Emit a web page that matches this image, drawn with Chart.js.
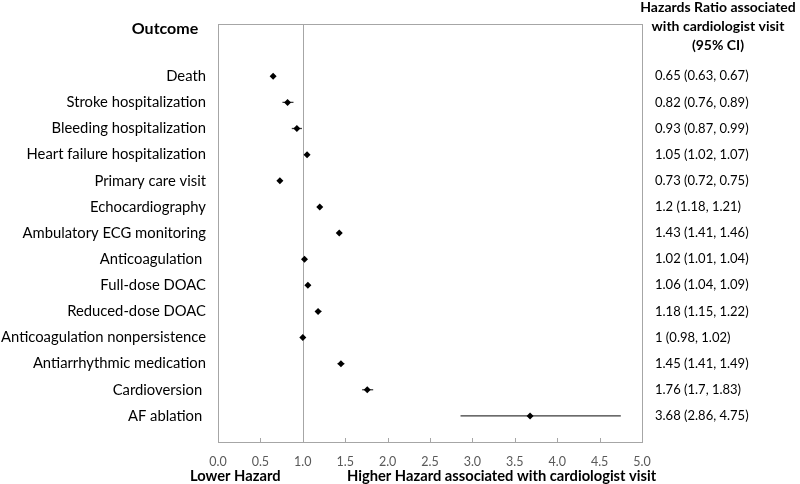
<!DOCTYPE html>
<html>
<head>
<meta charset="utf-8">
<script src="https://cdn.jsdelivr.net/npm/chart.js@4/dist/chart.umd.min.js"></script>
<style>
  html, body { margin: 0; padding: 0; background: #ffffff; }
  #wrap { width: 800px; height: 484px; }
</style>
</head>
<body>
<div id="wrap"><canvas id="c" width="800" height="484"></canvas></div>
<script>
// ---- Data ----
const outcomes = [
  "Death",
  "Stroke hospitalization",
  "Bleeding hospitalization",
  "Heart failure hospitalization",
  "Primary care visit",
  "Echocardiography",
  "Ambulatory ECG monitoring",
  "Anticoagulation ",
  "Full-dose DOAC",
  "Reduced-dose DOAC",
  "Anticoagulation nonpersistence",
  "Antiarrhythmic medication",
  "Cardioversion ",
  "AF ablation "
];
const hr    = [0.65, 0.82, 0.93, 1.05, 0.73, 1.2, 1.43, 1.02, 1.06, 1.18, 1, 1.45, 1.76, 3.68];
const ciLow = [0.63, 0.76, 0.87, 1.02, 0.72, 1.18, 1.41, 1.01, 1.04, 1.15, 0.98, 1.41, 1.7, 2.86];
const ciHigh= [0.67, 0.89, 0.99, 1.07, 0.75, 1.21, 1.46, 1.04, 1.09, 1.22, 1.02, 1.49, 1.83, 4.75];
const xTicks = [0, 0.5, 1, 1.5, 2, 2.5, 3, 3.5, 4, 4.5, 5];
const headerLeft = "Outcome";
const headerRight = ["Hazards Ratio associated", "with cardiologist visit", "(95% CI)"];
const footerLeft = "Lower Hazard";
const footerRight = "Higher Hazard associated with cardiologist visit";

// rows from top: y positions 14 .. 1 on a 0..16 axis
const rowY = outcomes.map((_, i) => outcomes.length - i);
const hrText = hr.map((v, i) => `${v} (${ciLow[i]}, ${ciHigh[i]})`);

const FONT = "Lato, 'Liberation Sans', sans-serif";

const datasets = [];
outcomes.forEach((_, i) => {
  datasets.push({
    type: 'scatter',
    data: [{x: ciLow[i], y: rowY[i]}, {x: ciHigh[i], y: rowY[i]}],
    showLine: true,
    borderColor: '#3a3a3a',
    borderWidth: 1.3,
    pointRadius: 0,
    pointHoverRadius: 0,
    order: 2
  });
});
datasets.push({
  type: 'scatter',
  data: hr.map((v, i) => ({x: v, y: rowY[i]})),
  pointStyle: 'rectRot',
  pointRadius: 3.5,
  backgroundColor: '#000',
  borderColor: '#000',
  borderWidth: 0,
  order: 1
});

const decor = {
  id: 'decor',
  beforeDatasetsDraw(chart) {
    const {ctx, chartArea: a, scales} = chart;
    ctx.save();
    ctx.strokeStyle = '#a6a6a6';
    ctx.lineWidth = 1;
    // reference line at 1.0
    const x1 = Math.round(scales.x.getPixelForValue(1)) + 0.5;
    ctx.beginPath(); ctx.moveTo(x1, a.top); ctx.lineTo(x1, a.bottom); ctx.stroke();
    // box
    ctx.strokeRect(Math.round(a.left) + 0.5, Math.round(a.top) + 0.5,
                   Math.round(a.right - a.left), Math.round(a.bottom - a.top));
    // tick marks (inside)
    xTicks.forEach(t => {
      const px = Math.round(scales.x.getPixelForValue(t)) + 0.5;
      ctx.beginPath(); ctx.moveTo(px, a.bottom - 4); ctx.lineTo(px, a.bottom); ctx.stroke();
    });
    ctx.restore();
  },
  afterDraw(chart) {
    const {ctx, chartArea: a, scales} = chart;
    ctx.save();
    ctx.fillStyle = '#000';
    ctx.textBaseline = 'middle';
    // right column: HR (95% CI)
    ctx.font = "13px " + FONT;
    ctx.textAlign = 'left';
    hrText.forEach((s, i) => ctx.fillText(s, a.right + 13, scales.y.getPixelForValue(rowY[i])));
    // headers
    ctx.font = "bold 16px " + FONT;
    ctx.textAlign = 'center';
    ctx.fillText(headerLeft, 165, 29);
    ctx.font = "bold 14px " + FONT;
    headerRight.forEach((s, i) => ctx.fillText(s, 718, 7 + i * 19));
    // footers
    ctx.font = "bold 14.7px " + FONT;
    ctx.textAlign = 'left';
    ctx.fillText(footerLeft, 190, 476);
    ctx.fillText(footerRight, 347, 476);
    ctx.restore();
  }
};

new Chart(document.getElementById('c'), {
  data: { datasets },
  options: {
    responsive: false,
    animation: false,
    devicePixelRatio: 1,
    layout: { padding: { top: 24, left: 0, right: 158, bottom: 0 } },
    plugins: { legend: { display: false }, tooltip: { enabled: false } },
    scales: {
      x: {
        type: 'linear', min: 0, max: 5,
        afterBuildTicks(scale) { scale.ticks = xTicks.map(v => ({value: v})); },
        grid: { display: false, drawTicks: false },
        border: { display: false },
        ticks: {
          color: '#595959', font: { family: FONT, size: 12.5 }, padding: 12,
          callback: v => v.toFixed(1), maxRotation: 0, autoSkip: false
        },
        afterFit(scale) { scale.height = 42; }
      },
      y: {
        type: 'linear', position: 'left', min: 0, max: 16,
        afterBuildTicks(scale) { scale.ticks = rowY.map(v => ({value: v})); },
        grid: { display: false, drawTicks: false },
        border: { display: false },
        ticks: {
          color: '#000', font: { family: FONT, size: 14.8 }, padding: 12,
          autoSkip: false,
          callback: v => { const i = rowY.indexOf(v); return i >= 0 ? outcomes[i] : ''; }
        },
        afterFit(scale) { scale.width = 218; }
      }
    }
  },
  plugins: [decor]
});
</script>
</body>
</html>
